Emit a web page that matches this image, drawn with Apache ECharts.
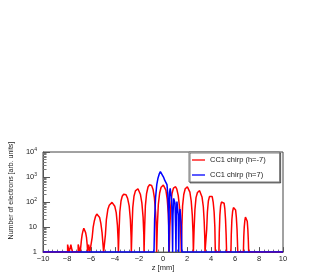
<!DOCTYPE html>
<html><head><meta charset="utf-8">
<script src="https://cdn.jsdelivr.net/npm/echarts@6/dist/echarts.min.js"></script>
<style>html,body{margin:0;padding:0;background:#fff}#c{width:327px;height:273px}</style>
</head><body><div id="c"></div>
<script>
const seriesNames = ['CC1 chirp (h=-7)', 'CC1 chirp (h=7)'];
const xTicks = [-10, -8, -6, -4, -2, 0, 2, 4, 6, 8, 10];
const yTicks = [1, 10, 100, 1000, 10000];
const redPoints = [
 [-10,1],
 [-7.95,1],[-7.95,2],[-7.82,2],[-7.82,1],[-7.68,1],[-7.68,2],[-7.55,2],[-7.55,1],
 [-7.07,1],[-7.07,2],[-6.95,2],[-6.9,1],
 [-6.85,1],[-6.8,3],[-6.74,5],[-6.67,7],[-6.6,9],[-6.55,8],[-6.5,9],[-6.45,6],[-6.38,4],[-6.32,2],[-6.28,1],
 [-6.2,1],[-6.2,2],[-6.1,2],[-6.1,1],
 [-5.95,1],[-5.9,4],[-5.82,10],[-5.72,18],[-5.62,27],[-5.52,33],[-5.45,35],[-5.38,31],[-5.28,24],[-5.18,14],[-5.08,6],[-5.0,2],[-4.95,1],
 [-4.85,1],[-4.8,5],[-4.72,20],[-4.6,50],[-4.48,75],[-4.35,90],[-4.25,97],[-4.15,88],[-4.02,68],[-3.9,38],[-3.8,12],[-3.74,3],[-3.72,1],
 [-3.7,1],[-3.66,8],[-3.6,40],[-3.5,110],[-3.4,170],[-3.28,205],[-3.17,218],[-3.08,195],[-2.95,140],[-2.82,70],[-2.72,20],[-2.66,4],[-2.64,1],
 [-2.62,1],[-2.58,10],[-2.52,60],[-2.42,170],[-2.3,280],[-2.18,330],[-2.09,340],[-2.0,300],[-1.88,200],[-1.76,90],[-1.66,25],[-1.6,5],[-1.58,1],
 [-1.56,1],[-1.53,10],[-1.47,70],[-1.37,220],[-1.25,400],[-1.12,490],[-1.03,505],[-0.95,460],[-0.83,320],[-0.72,150],[-0.62,40],[-0.56,8],[-0.53,1],
 [-0.52,1],[-0.47,12],[-0.39,80],[-0.28,230],[-0.16,390],[-0.05,460],[0.03,475],[0.12,440],[0.24,300],[0.35,130],[0.44,35],[0.5,6],[0.52,1],
 [0.53,1],[0.57,10],[0.65,70],[0.75,220],[0.87,360],[0.97,420],[1.05,410],[1.15,330],[1.27,180],[1.38,60],[1.46,15],[1.5,3],[1.52,1],
 [1.53,1],[1.57,10],[1.63,70],[1.73,200],[1.85,340],[1.96,395],[2.03,405],[2.12,370],[2.24,250],[2.35,110],[2.44,30],[2.5,6],[2.53,1],
 [2.55,1],[2.59,8],[2.66,50],[2.75,150],[2.87,240],[2.97,280],[3.05,285],[3.14,250],[3.25,160],[3.36,65],[3.43,18],[3.48,4],[3.5,1],
 [3.6,1],[3.64,8],[3.7,40],[3.78,110],[3.87,165],[3.95,185],[4.02,190],[4.1,165],[4.18,100],[4.26,40],[4.32,10],[4.36,1],
 [4.66,1],[4.69,6],[4.74,30],[4.8,70],[4.87,100],[4.95,112],[5.02,110],[5.09,90],[5.15,55],[5.21,20],[5.26,5],[5.3,1],
 [5.66,1],[5.69,5],[5.74,20],[5.8,42],[5.87,60],[5.93,67],[5.99,63],[6.05,48],[6.11,25],[6.17,8],[6.2,3],[6.23,1],
 [6.7,1],[6.73,4],[6.77,10],[6.82,18],[6.87,25],[6.92,28],[6.97,25],[7.02,17],[7.07,8],[7.11,3],[7.14,1],
 [10,1]
];
const bluePoints = [
 [-10,1],[-0.75,1],[-0.7,20],[-0.62,150],[-0.52,500],[-0.42,900],[-0.32,1300],[-0.22,1650],[-0.14,1700],[-0.06,1400],
 [0.04,1000],[0.14,750],[0.24,650],[0.33,500],[0.4,200],[0.46,30],[0.49,1],
 [0.51,40],[0.55,250],[0.6,350],[0.66,300],[0.72,120],[0.77,10],[0.8,1],
 [0.83,30],[0.89,140],[0.94,150],[1.0,90],[1.05,10],[1.08,1],
 [1.11,30],[1.16,105],[1.21,100],[1.27,30],[1.31,1],
 [1.35,20],[1.42,53],[1.47,45],[1.53,10],[1.57,1],[10,1]
];

const minorY = [];
for (let d = 1; d < 10000; d *= 10) for (let k = 2; k <= 9; k++) minorY.push(d * k);
const sup = {1:'', 2:'2', 3:'3', 4:'4'};
const chart = echarts.init(document.getElementById('c'), null, {renderer: 'canvas'});
const fam = 'Liberation Sans, Arial, sans-serif';
chart.setOption({
  animation: false,
  backgroundColor: '#fff',
  grid: {left: 41, right: 44, top: 152, bottom: 16, show: true, borderColor: '#444', borderWidth: 1, backgroundColor: 'transparent'},
  legend: {
    orient: 'vertical', left: 189, top: 152,
    backgroundColor: '#fff', borderColor: '#777', borderWidth: 1,
    shadowColor: 'rgba(0,0,0,0.5)', shadowOffsetX: 1, shadowOffsetY: 1, shadowBlur: 0,
    padding: [3, 14, 2, 3], itemGap: 5, itemWidth: 13, itemHeight: 1.3, itemTextGap: 8,
    icon: 'rect',
    textStyle: {fontFamily: fam, fontSize: 7.5, color: '#222', lineHeight: 10},
    data: seriesNames
  },
  xAxis: {
    type: 'value', min: xTicks[0], max: xTicks[xTicks.length - 1], interval: 2,
    name: 'z [mm]', nameLocation: 'middle', nameGap: 11,
    nameTextStyle: {fontFamily: fam, fontSize: 7.5, color: '#222'},
    axisLine: {onZero: false, lineStyle: {color: '#555', width: 1}},
    axisTick: {inside: true, length: 5, lineStyle: {color: '#555'}},
    minorTick: {show: true, splitNumber: 5, length: 2.5, lineStyle: {color: '#777'}},
    axisLabel: {fontFamily: fam, fontSize: 7.5, color: '#222', margin: 3, formatter: v => String(v).replace('-', '\u2212')},
    splitLine: {show: false}
  },
  yAxis: [{
    type: 'log', logBase: 10, min: yTicks[0], max: yTicks[yTicks.length - 1], position: 'left',
    name: 'Number of electrons [arb. units]', nameLocation: 'middle', nameGap: 24,
    nameTextStyle: {fontFamily: fam, fontSize: 7, color: '#222', padding: [0, 0, 0, 23]},
    axisLine: {onZero: false, lineStyle: {color: '#555', width: 1}},
    axisTick: {inside: true, length: 7, lineStyle: {color: '#555'}},
    axisLabel: {
      fontFamily: fam, fontSize: 7.5, color: '#222', margin: 6,
      formatter: v => {
        const e = Math.round(Math.log10(v));
        if (e === 0) return '1';
        if (e === 1) return '10';
        return '10{s|' + sup[e] + '}';
      },
      rich: {s: {fontSize: 5, verticalAlign: 'top', padding: [0, 0, 5, 0], fontFamily: fam, color: '#222'}}
    },
    splitLine: {show: false}
  }, {
    type: 'log', logBase: 10, min: yTicks[0], max: yTicks[yTicks.length - 1], position: 'left', offset: 0,
    axisLine: {show: false, onZero: false},
    axisTick: {show: true, inside: true, length: 3.5, customValues: minorY, lineStyle: {color: '#777'}},
    axisLabel: {show: false},
    splitLine: {show: false}
  }],
  series: [{
    name: seriesNames[0], type: 'line', data: redPoints, symbol: 'none',
    lineStyle: {color: '#ff0000', width: 1.5}, itemStyle: {color: '#ff0000'}, z: 2
  }, {
    name: seriesNames[1], type: 'line', data: bluePoints, symbol: 'none',
    lineStyle: {color: '#0000ff', width: 1.5}, itemStyle: {color: '#0000ff'}, z: 3
  }]
});
</script></body></html>
